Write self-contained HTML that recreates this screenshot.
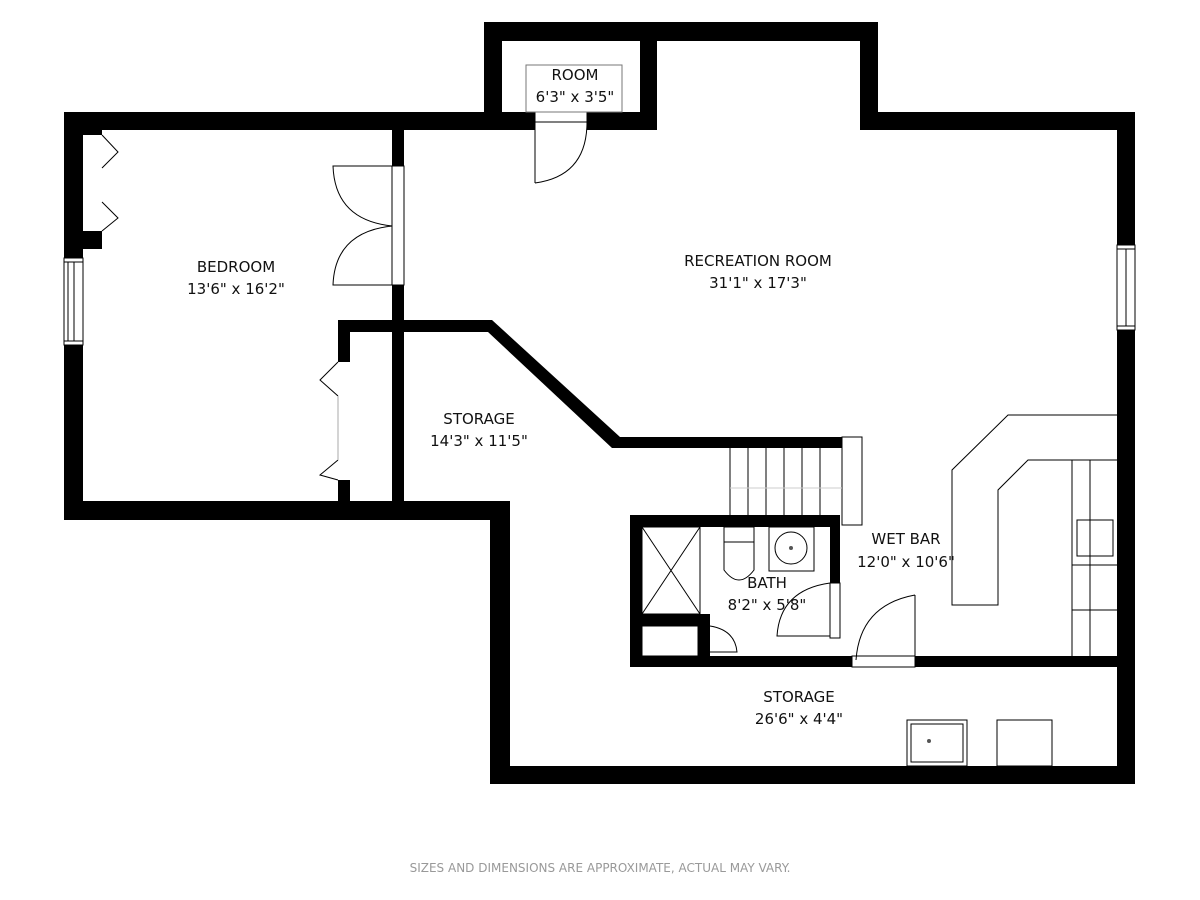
<!DOCTYPE html>
<html><head><meta charset="utf-8"><style>
html,body{margin:0;padding:0;background:#fff;}
svg{display:block;}
text{font-family:"DejaVu Sans","Liberation Sans",sans-serif;fill:#111;}
</style></head><body>
<svg width="1200" height="900" viewBox="0 0 1200 900" xmlns="http://www.w3.org/2000/svg">
<g fill="#000">
<rect x="484" y="22" width="394" height="19"/>
<rect x="484" y="22" width="18" height="108"/>
<rect x="640" y="22" width="17" height="108"/>
<rect x="860" y="22" width="18" height="108"/>
<rect x="860" y="112" width="275" height="18"/>
<rect x="64" y="112" width="420" height="18"/>
<rect x="484" y="112" width="51" height="18"/>
<rect x="587" y="112" width="70" height="18"/>
<rect x="64" y="112" width="19" height="408"/>
<rect x="83" y="130" width="19" height="5"/>
<rect x="83" y="231" width="19" height="18"/>
<rect x="64" y="501" width="446" height="19"/>
<rect x="392" y="130" width="12" height="390"/>
<polygon points="338,320 492,320 620,437 842,437 842,448 612,448 488,332 338,332"/>
<rect x="338" y="320" width="12" height="42"/>
<rect x="338" y="480" width="12" height="40"/>
<rect x="490" y="501" width="20" height="283"/>
<rect x="490" y="766" width="645" height="18"/>
<rect x="1117" y="112" width="18" height="672"/>
<rect x="630" y="515" width="12" height="152"/>
<rect x="630" y="515" width="210" height="12"/>
<rect x="830" y="515" width="10" height="68"/>
<rect x="630" y="656" width="222" height="11"/>
<rect x="915" y="656" width="202" height="11"/>
<rect x="642" y="614" width="68" height="12"/>
<rect x="698" y="614" width="12" height="42"/>
</g>
<g fill="#fff" stroke="#000" stroke-width="1">
<rect x="64" y="258" width="19" height="87"/>
<line x1="68" y1="262" x2="68" y2="341"/><line x1="74" y1="262" x2="74" y2="341"/>
<line x1="64" y1="262" x2="83" y2="262"/><line x1="64" y1="341" x2="83" y2="341"/>
<rect x="1117" y="245" width="18" height="85"/>
<line x1="1126" y1="249" x2="1126" y2="326"/>
<line x1="1117" y1="249" x2="1135" y2="249"/><line x1="1117" y1="326" x2="1135" y2="326"/>
<rect x="392" y="166" width="12" height="119"/>
<rect x="535" y="112" width="52" height="10"/>
<rect x="842" y="437" width="20" height="88"/>
<rect x="830" y="583" width="10" height="55"/>
<rect x="852" y="656" width="63" height="11"/>
</g>
<g fill="none" stroke="#000" stroke-width="1">
<rect x="526" y="65" width="96" height="47" stroke="#777"/>
<path d="M535 122 V183 M587 122 Q587 176 535 183"/>
<path d="M102 135 L118 152 L102 168 M102 202 L118 218 L102 231"/>
<path d="M338 362 L320 380 L338 396 M338 460 L320 475 L338 480"/>
<line x1="338" y1="396" x2="338" y2="460" stroke="#aaa"/>
<path d="M392 166 H333 Q335 220 392 226 M392 285 H333 Q335 232 392 226"/>
<path d="M730 448 V515 M748 448 V515 M766 448 V515 M784 448 V515 M802 448 V515 M820 448 V515 M842 448 V525"/>
<line x1="730" y1="488" x2="842" y2="488" stroke="#ccc"/>
<rect x="642" y="527" width="58" height="87"/>
<path d="M642 527 L700 614 M700 527 L642 614"/>
<rect x="724" y="527" width="30" height="15"/>
<path d="M724 542 V570 Q739 590 754 570 V542"/>
<rect x="769" y="527" width="45" height="44"/>
<circle cx="791" cy="548" r="16"/>
<path d="M830 583 Q780 590 777 636 H830"/>
<rect x="642" y="626" width="56" height="30"/>
<path d="M710 626 Q735 630 737 652 H710"/>
<path d="M915 595 Q860 605 856 660 M915 595 V656"/>
<path d="M1117 415 H1008 L952 470 V605 H998 V490 L1028 460 H1117"/>
<path d="M1072 460 V656 M1090 460 V656 M1072 565 H1117 M1072 610 H1117"/>
<rect x="1077" y="520" width="36" height="36"/>
<rect x="907" y="720" width="60" height="46"/>
<rect x="911" y="724" width="52" height="38"/>
<rect x="997" y="720" width="55" height="46"/>
</g>
<circle cx="791" cy="548" r="2" fill="#555"/>
<circle cx="929" cy="741" r="2" fill="#555"/>
<g font-size="15" text-anchor="middle">
<text x="575" y="80">ROOM</text><text x="575" y="102">6'3" x 3'5"</text>
<text x="236" y="272">BEDROOM</text><text x="236" y="294">13'6" x 16'2"</text>
<text x="758" y="266">RECREATION ROOM</text><text x="758" y="288">31'1" x 17'3"</text>
<text x="479" y="424">STORAGE</text><text x="479" y="446">14'3" x 11'5"</text>
<text x="906" y="544">WET BAR</text><text x="906" y="567">12'0" x 10'6"</text>
<text x="767" y="588">BATH</text><text x="767" y="610">8'2" x 5'8"</text>
<text x="799" y="702">STORAGE</text><text x="799" y="724">26'6" x 4'4"</text>
</g>
<text x="600" y="872" font-size="12" text-anchor="middle" style="fill:#999">SIZES AND DIMENSIONS ARE APPROXIMATE, ACTUAL MAY VARY.</text>
</svg>
</body></html>
